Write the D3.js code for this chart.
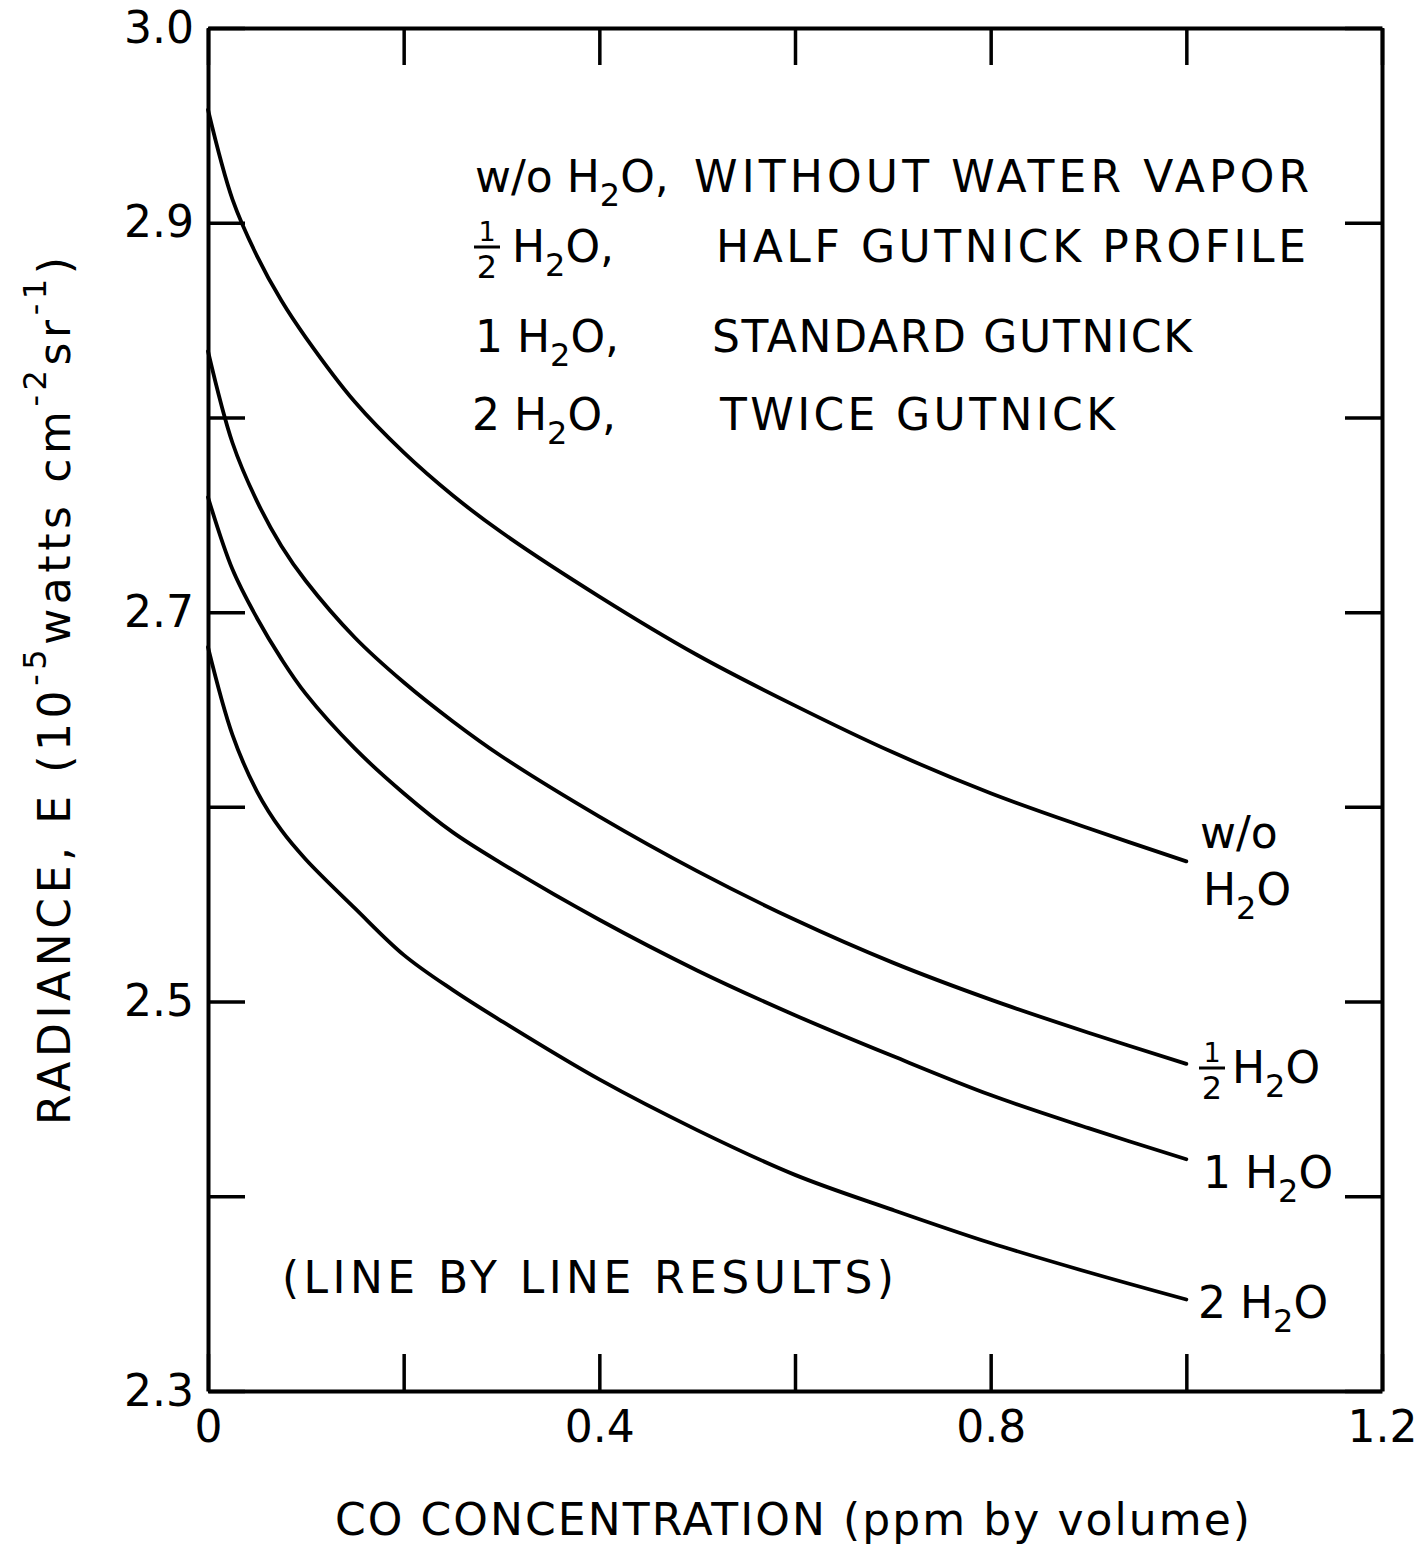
<!DOCTYPE html>
<html>
<head>
<meta charset="utf-8">
<script src="https://cdn.jsdelivr.net/npm/d3@7"></script>
<style>
  html, body { margin: 0; padding: 0; background: #fff; }
  svg { display: block; }
  text { font-family: "DejaVu Sans", "Liberation Sans", Arial, sans-serif; fill: #000; }
</style>
</head>
<body>
<svg id="chart" width="1419" height="1545"></svg>
<script>
// ---- data ----
const xTicks = [0, 0.2, 0.4, 0.6, 0.8, 1.0, 1.2];
const xTickLabels = {"0": "0", "0.4": "0.4", "0.8": "0.8", "1.2": "1.2"};
const yTicks = [2.3, 2.4, 2.5, 2.6, 2.7, 2.8, 2.9, 3.0];
const yTickLabels = {"2.3": "2.3", "2.5": "2.5", "2.7": "2.7", "2.9": "2.9", "3": "3.0"};

// CO concentration (ppm by volume)
const coConc  = [0, 0.025, 0.05, 0.075, 0.1, 0.15, 0.2, 0.25, 0.3, 0.4, 0.5, 0.6, 0.7, 0.8, 0.9, 1.0];
// Radiance (1e-5 W cm^-2 sr^-1)
const woH2O   = [2.958, 2.912, 2.883, 2.860, 2.841, 2.808, 2.782, 2.760, 2.741, 2.708, 2.678, 2.652, 2.628, 2.607, 2.589, 2.572];
const halfH2O = [2.834, 2.787, 2.757, 2.734, 2.716, 2.687, 2.664, 2.644, 2.626, 2.595, 2.567, 2.542, 2.520, 2.501, 2.484, 2.468];
const oneH2O  = [2.759, 2.722, 2.697, 2.676, 2.658, 2.630, 2.607, 2.587, 2.571, 2.542, 2.516, 2.493, 2.472, 2.452, 2.435, 2.419];
const twoH2O  = [2.682, 2.637, 2.608, 2.588, 2.573, 2.548, 2.524, 2.506, 2.490, 2.460, 2.434, 2.411, 2.393, 2.376, 2.361, 2.347];

const series = [woH2O, halfH2O, oneH2O, twoH2O];

// ---- scales ----
const svg = d3.select("#chart");
const x = d3.scaleLinear().domain([0, 1.2]).range([208, 1382]);
const y = d3.scaleLinear().domain([2.3, 3.0]).range([1391, 28]);

const fmtX = d => xTickLabels[String(+d.toFixed(1))] || "";
const fmtY = d => yTickLabels[String(+d.toFixed(1))] || "";

const TICK = 37, AXW = 4;

function styleAxis(g) {
  g.select(".domain").attr("stroke", "#000").attr("stroke-width", AXW);
  g.selectAll(".tick line").attr("stroke", "#000").attr("stroke-width", 3.5);
  g.selectAll(".tick text").style("font-size", "44px")
    .style("font-family", "'DejaVu Sans', sans-serif").attr("fill", "#000");
}

// bottom axis
svg.append("g").attr("transform", `translate(0,${y(2.3)})`)
  .call(d3.axisBottom(x).tickValues(xTicks).tickSize(-TICK).tickSizeOuter(0).tickPadding(20).tickFormat(fmtX))
  .call(styleAxis);
// top axis
svg.append("g").attr("transform", `translate(0,${y(3.0)})`)
  .call(d3.axisTop(x).tickValues(xTicks).tickSize(-TICK).tickSizeOuter(0).tickFormat(""))
  .call(styleAxis);
// left axis
svg.append("g").attr("transform", `translate(${x(0)},0)`)
  .call(d3.axisLeft(y).tickValues(yTicks).tickSize(-TICK).tickSizeOuter(0).tickPadding(14).tickFormat(fmtY))
  .call(styleAxis);
// right axis
svg.append("g").attr("transform", `translate(${x(1.2)},0)`)
  .call(d3.axisRight(y).tickValues(yTicks).tickSize(-TICK).tickSizeOuter(0).tickFormat(""))
  .call(styleAxis);

// ---- curves ----
const line = d3.line()
  .x((d, i) => x(coConc[i]))
  .y(d => y(d))
  .curve(d3.curveCatmullRom.alpha(0.5));

svg.append("g").selectAll("path").data(series).join("path")
  .attr("d", d => line(d))
  .attr("fill", "none")
  .attr("stroke", "#000")
  .attr("stroke-width", 3.8)
  .attr("stroke-linecap", "round");

// ---- text helpers ----
const FS = 44, SUB = 32;
function addH2O(tx, trailing) {
  tx.append("tspan").text("H");
  tx.append("tspan").attr("dy", 14).style("font-size", SUB + "px").text("2");
  tx.append("tspan").attr("dy", -14).text("O" + (trailing || ""));
  return tx;
}
function txt(x0, yb, size) {
  return svg.append("text").attr("x", x0).attr("y", yb).style("font-size", (size || FS) + "px");
}
function fraction(xc, yb) {
  svg.append("text").attr("x", xc).attr("y", yb - 21).attr("text-anchor", "middle")
    .style("font-size", "27px").text("1");
  svg.append("line").attr("x1", xc - 13).attr("x2", xc + 13)
    .attr("y1", yb - 15).attr("y2", yb - 15).attr("stroke", "#000").attr("stroke-width", 3);
  svg.append("text").attr("x", xc).attr("y", yb + 16).attr("text-anchor", "middle")
    .style("font-size", "32px").text("2");
}

// ---- legend block ----
{
  const t1 = txt(475, 192);
  t1.append("tspan").text("w/o ");
  addH2O(t1, ",");
  txt(694, 192).attr("textLength", 615).attr("lengthAdjust", "spacing").text("WITHOUT WATER VAPOR");

  fraction(487, 262);
  addH2O(txt(512, 262), ",");
  txt(716, 262).attr("textLength", 590).attr("lengthAdjust", "spacing").text("HALF GUTNICK PROFILE");

  const t3 = txt(475, 352);
  t3.append("tspan").text("1 ");
  addH2O(t3, ",");
  txt(712, 352).attr("textLength", 480).attr("lengthAdjust", "spacing").text("STANDARD GUTNICK");

  const t4 = txt(472, 430);
  t4.append("tspan").text("2 ");
  addH2O(t4, ",");
  txt(720, 430).attr("textLength", 395).attr("lengthAdjust", "spacing").text("TWICE GUTNICK");

  txt(282, 1293).attr("textLength", 612).attr("lengthAdjust", "spacing").text("(LINE BY LINE RESULTS)");
}

// ---- end-of-curve labels ----
{
  txt(1200, 848).text("w/o");
  addH2O(txt(1203, 905));

  fraction(1212, 1083);
  addH2O(txt(1232, 1083));

  const e3 = txt(1203, 1188);
  e3.append("tspan").text("1 ");
  addH2O(e3);

  const e4 = txt(1198, 1318);
  e4.append("tspan").text("2 ");
  addH2O(e4);
}

// ---- axis titles ----
txt(335, 1535, 44).attr("textLength", 915).attr("lengthAdjust", "spacing")
  .text("CO CONCENTRATION (ppm by volume)");

{
  const yt = svg.append("text")
    .attr("transform", "translate(70,1125) rotate(-90)")
    .style("font-size", "44px")
    .attr("textLength", 868).attr("lengthAdjust", "spacing");
  yt.append("tspan").text("RADIANCE, E (10");
  yt.append("tspan").attr("dy", -24).style("font-size", "32px").text("-5");
  yt.append("tspan").attr("dy", 24).text("watts cm");
  yt.append("tspan").attr("dy", -24).style("font-size", "32px").text("-2");
  yt.append("tspan").attr("dy", 24).text("sr");
  yt.append("tspan").attr("dy", -24).style("font-size", "32px").text("-1");
  yt.append("tspan").attr("dy", 24).text(")");
}
</script>
</body>
</html>
